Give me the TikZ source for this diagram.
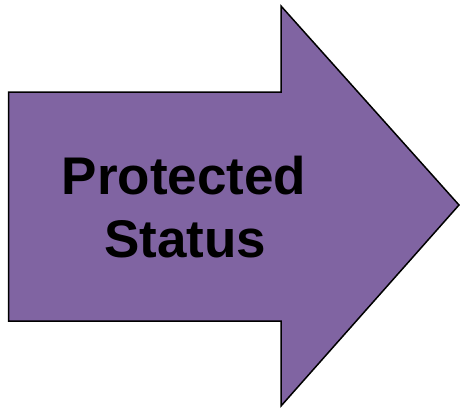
\documentclass[tikz,border=0pt]{standalone}
\usepackage{fontspec}
\setmainfont{Liberation Sans}
\definecolor{arrowpurple}{HTML}{8064A2}
\begin{document}
\begin{tikzpicture}[x=1pt,y=-1pt,font=\fontsize{53}{55}\selectfont\bfseries]
			\useasboundingbox (0,0) rectangle (460,408);
			\draw[fill=arrowpurple,line width=1.5pt,line join=miter] (8.5,92)--(281,92)--(281,6)--(459,205)--(281,406)--(281,321)--(8.5,321)--cycle;
			\node[anchor=base,inner sep=0pt] (prot) at (184,194) {Protected};
			\node[anchor=base,inner sep=0pt] (stat) at (185,257) {Status};
		\end{tikzpicture}
\end{document}
